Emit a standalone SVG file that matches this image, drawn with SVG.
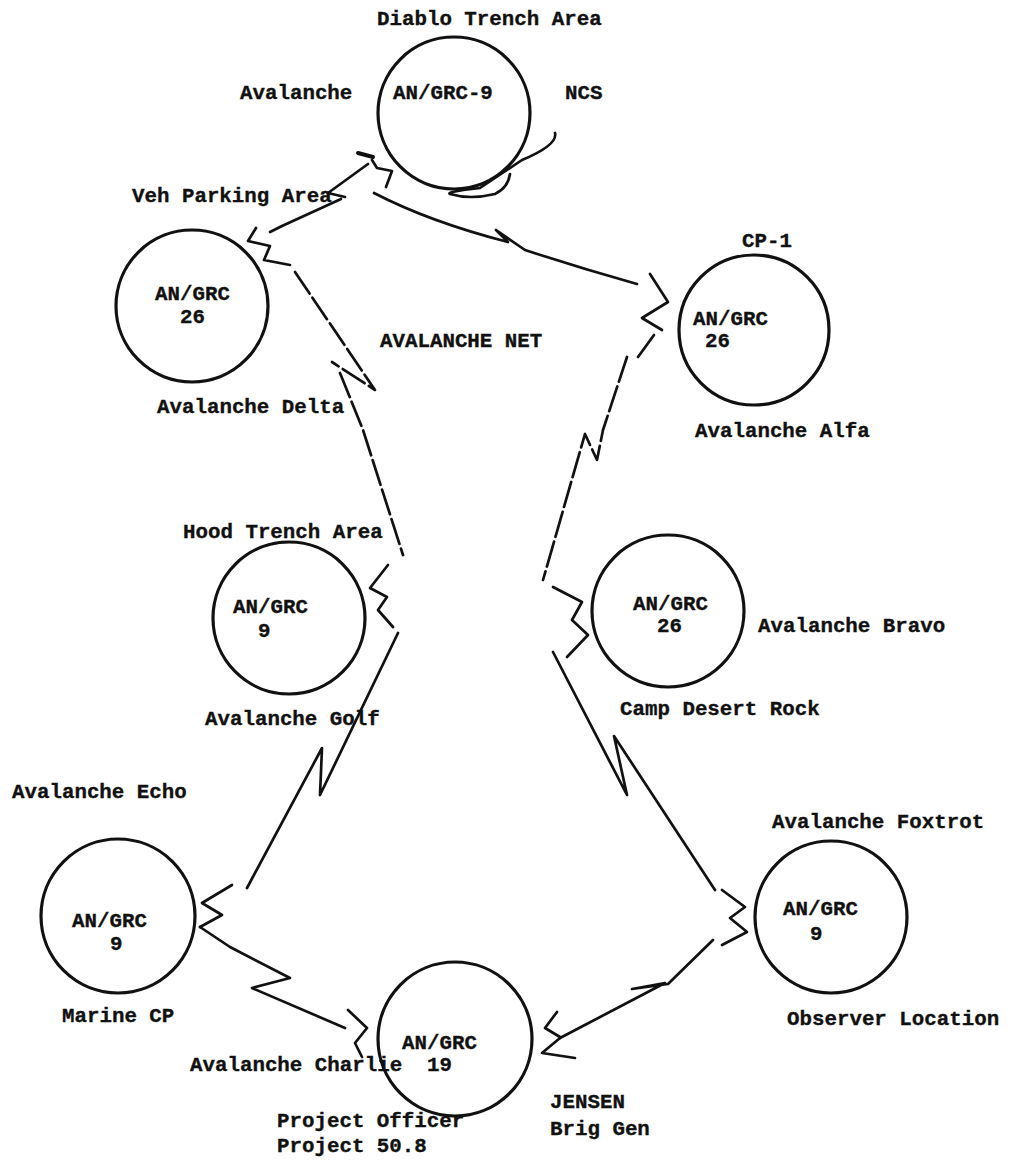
<svg xmlns="http://www.w3.org/2000/svg" width="1016" height="1161" viewBox="0 0 1016 1161">
<style>
.bg{fill:#ffffff}
.node{fill:none;stroke:#111;stroke-width:3.2}
.t{font-family:"Liberation Mono","Courier New",monospace;font-weight:bold;font-size:20.8px;fill:#111;stroke:#111;stroke-width:0.35}
.c{fill:none;stroke:#111;stroke-width:2.7;stroke-linejoin:round;stroke-linecap:round}
.d{stroke-dasharray:26 5}
</style>
<rect class="bg" x="0" y="0" width="1016" height="1161"/>
<text class="t" x="380" y="347">AVALANCHE NET</text>
<g id="connectors">
  <!-- Diablo - Delta -->
  <path class="c" d="M358 153 L373 157" style="stroke-width:4"/>
  <path class="c" d="M372 160 L377 168 L392 171 L386 187"/>
  <path class="c" d="M368 164 L328 193 L345 197"/>
  <path class="c" d="M341 199 L282 226 L270 232"/>
  <path class="c" d="M256 228 L248 241 L270 246 L264 260 L290 265"/>
  <!-- Diablo - Alfa -->
  <path class="c" d="M374 193 Q430 222 508 242 L496 230 L525 250 Q580 268 637 284"/>
  <path class="c" d="M650 274 L668 302 L642 318 L662 330"/>
  <path class="c" d="M654 335 L638 357"/>
  <!-- Alfa - Bravo -->
  <path class="c d" d="M627 357 L603 430 L597 460 L585 434 L543 580"/>
  <path class="c" d="M553 587 L582 602 L572 620 L588 635 L567 657"/>
  <!-- Delta - Golf -->
  <path class="c d" d="M295 272 L375 390 L332 362"/>
  <path class="c d" d="M340 373 L363 430 L403 555"/>
  <path class="c" d="M388 565 L370 588 L387 597 L378 610 L393 627"/>
  <!-- Golf - Echo -->
  <path class="c" d="M398 633 L320 795 L322 748 L247 888"/>
  <path class="c" d="M232 885 L202 903 L222 915 L200 927"/>
  <!-- Echo - Charlie -->
  <path class="c" d="M200 927 L230 947 L290 978 L252 988 L345 1028"/>
  <path class="c" d="M348 1010 L367 1028 L355 1043 L362 1057"/>
  <!-- Bravo - Foxtrot -->
  <path class="c" d="M553 652 L627 795 L614 736 L715 890"/>
  <path class="c" d="M722 890 L745 907 L730 918 L747 932 L722 945"/>
  <!-- Foxtrot - Charlie -->
  <path class="c" d="M713 940 L668 984 L632 989 L665 983 L560 1038"/>
  <path class="c" d="M557 1012 L545 1028 L560 1037"/>
  <path class="c" d="M560 1038 L542 1053 L575 1058"/>
</g>
<g id="node-diablo">
  <circle class="node" cx="454" cy="113" r="76"/>
  <path class="c" d="M555 133 Q558 145 522 160 Q495 178 480 188 Q445 192 450 194 Q470 200 495 194 Q508 188 510 174"/>
  <text class="t" x="377" y="25">Diablo Trench Area</text>
  <text class="t" x="240" y="99">Avalanche</text>
  <text class="t" x="393" y="99">AN/GRC-9</text>
  <text class="t" x="565" y="99">NCS</text>
</g>
<g id="node-delta">
  <circle class="node" cx="192" cy="306" r="76"/>
  <text class="t" x="132" y="202">Veh Parking Area</text>
  <text class="t" x="155" y="300">AN/GRC</text>
  <text class="t" x="180" y="323">26</text>
  <text class="t" x="157" y="413">Avalanche Delta</text>
</g>
<g id="node-alfa">
  <circle class="node" cx="754" cy="330" r="75"/>
  <text class="t" x="742" y="247">CP-1</text>
  <text class="t" x="693" y="325">AN/GRC</text>
  <text class="t" x="705" y="347">26</text>
  <text class="t" x="695" y="437">Avalanche Alfa</text>
</g>
<g id="node-golf">
  <circle class="node" cx="289" cy="618" r="76"/>
  <text class="t" x="183" y="538">Hood Trench Area</text>
  <text class="t" x="233" y="613">AN/GRC</text>
  <text class="t" x="258" y="637">9</text>
  <text class="t" x="205" y="725">Avalanche Golf</text>
</g>
<g id="node-bravo">
  <circle class="node" cx="668" cy="611" r="76"/>
  <text class="t" x="633" y="610">AN/GRC</text>
  <text class="t" x="657" y="632">26</text>
  <text class="t" x="758" y="632">Avalanche Bravo</text>
  <text class="t" x="620" y="715">Camp Desert Rock</text>
</g>
<g id="node-echo">
  <circle class="node" cx="118" cy="916" r="77"/>
  <text class="t" x="12" y="798">Avalanche Echo</text>
  <text class="t" x="72" y="927">AN/GRC</text>
  <text class="t" x="110" y="950">9</text>
  <text class="t" x="62" y="1022">Marine CP</text>
</g>
<g id="node-charlie">
  <circle class="node" cx="455" cy="1039" r="77"/>
  <text class="t" x="402" y="1049">AN/GRC</text>
  <text class="t" x="427" y="1071">19</text>
  <text class="t" x="190" y="1071">Avalanche Charlie</text>
  <text class="t" x="277" y="1127">Project Officer</text>
  <text class="t" x="277" y="1152">Project 50.8</text>
  <text class="t" x="550" y="1108">JENSEN</text>
  <text class="t" x="550" y="1135">Brig Gen</text>
</g>
<g id="node-foxtrot">
  <circle class="node" cx="831" cy="917" r="76"/>
  <text class="t" x="772" y="828">Avalanche Foxtrot</text>
  <text class="t" x="783" y="915">AN/GRC</text>
  <text class="t" x="810" y="940">9</text>
  <text class="t" x="787" y="1025">Observer Location</text>
</g>
</svg>
